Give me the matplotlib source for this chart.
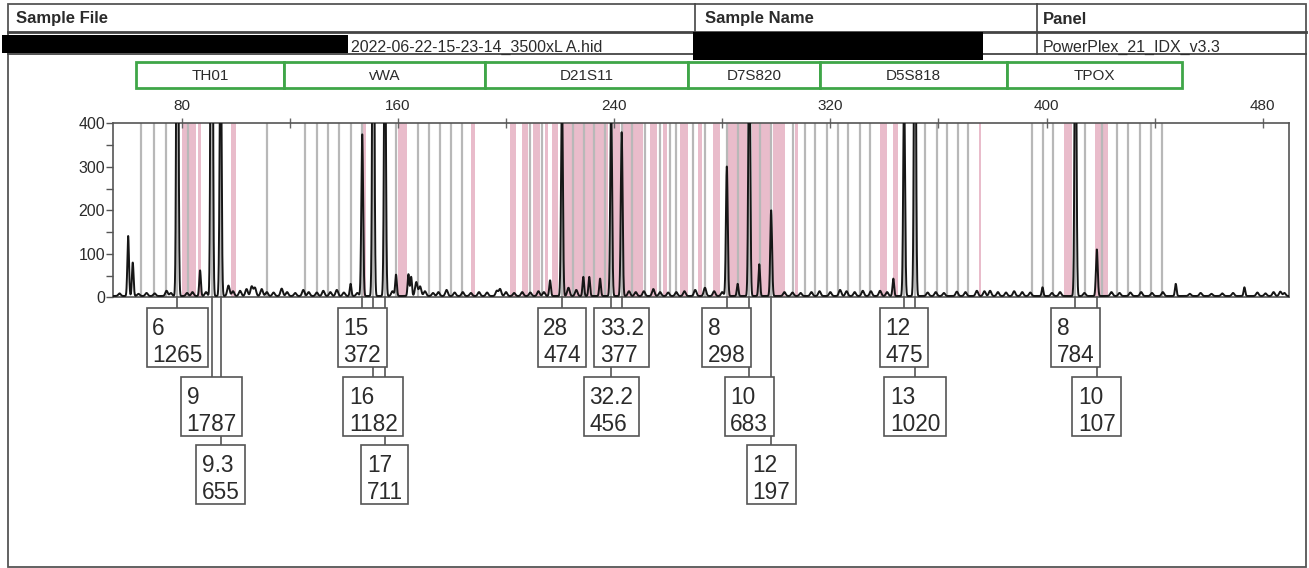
#!/usr/bin/env python3
"""Electropherogram of one dye channel (TH01 .. TPOX) with allele call boxes."""

import numpy as np
from matplotlib import pyplot as plt
from matplotlib.lines import Line2D
from matplotlib.patches import Rectangle

plt.rcParams['font.family'] = ['Liberation Sans', 'DejaVu Sans']

W, H = 1309, 568

sample_file = "2022-06-22-15-23-14_3500xL A.hid"
panel = "PowerPlex_21_IDX_v3.3"

# locus ranges (bp)
loci = ["TH01", "vWA", "D21S11", "D7S820", "D5S818", "TPOX"]
locus_edges = [63.1, 117.9, 192.2, 267.5, 316.2, 385.3, 450.0]

# called alleles: name, size (bp), height (RFU), label row
allele_names = ["6", "9", "9.3", "15", "16", "17", "28", "32.2", "33.2",
                "8", "10", "12", "12", "13", "8", "10"]
allele_sizes = [78.4, 91.1, 94.4, 146.8, 150.9, 155.2, 220.7, 238.9, 242.8,
                281.7, 290.0, 298.1, 347.3, 351.3, 410.7, 418.6]
allele_heights = [1265, 1787, 655, 372, 1182, 711, 474, 456, 377,
                  298, 683, 197, 475, 1020, 784, 107]
label_rows = [0, 1, 2, 0, 1, 2, 0, 1, 0, 0, 1, 2, 0, 1, 0, 1]

# uncalled peaks (stutter, artefacts)
minor_sizes = [60.2, 61.9, 86.8, 142.5, 159.3, 163.9, 164.9, 216.3, 228.6,
               230.8, 234.8, 285.7, 293.7, 343.3, 398.5, 447.8, 473.2]
minor_heights = [138, 77, 59, 28, 49, 50, 44, 36, 44,
                 44, 40, 28, 73, 40, 20, 28, 20]

# baseline noise bumps
noise_sizes = [57, 64, 67, 70, 74.4, 76, 82, 84, 89, 97.3, 99, 101.6, 104.0,
               105.9, 107.1, 109.6, 111.5, 114, 117.0, 119, 122, 125.0, 127,
               130, 132.4, 135, 137.4, 140, 145, 158, 166.8, 168.2, 170, 173,
               175, 178, 181, 184, 187, 190, 193, 196.6, 197.8, 200, 203, 206,
               209, 212, 214, 223.1, 226, 245.5, 248, 251, 254.5, 257, 260,
               263, 266, 270, 273.6, 277, 280, 303, 306, 309, 313, 316, 320,
               323.6, 326, 329, 332, 335, 338.4, 341, 356, 359, 362, 366.8,
               370, 374.2, 377, 379.1, 382, 385, 388, 391, 394, 402, 405, 414,
               424, 427, 431, 435, 439, 443, 453, 457, 461, 465, 469, 478,
               481, 484, 486.5, 488]
noise_heights = [6, 5, 7, 6, 12, 7, 7, 9, 9, 24, 11, 12, 16, 22, 19, 16, 9, 8,
                 17, 9, 7, 14, 9, 8, 12, 9, 14, 8, 7, 11, 32, 22, 11, 7, 9, 14,
                 8, 9, 7, 9, 8, 12, 16, 9, 7, 9, 8, 11, 9, 19, 14, 11, 9, 11,
                 16, 9, 8, 9, 11, 14, 19, 11, 9, 9, 8, 7, 9, 11, 9, 14, 11, 9,
                 12, 11, 12, 9, 8, 9, 7, 10, 9, 12, 11, 12, 9, 8, 11, 9, 8, 7,
                 9, 7, 9, 7, 8, 9, 7, 9, 5, 7, 5, 6, 7, 8, 6, 9, 10, 7]

# allele bins: ladder bins (grey) and virtual bins (pink)
gray_bins = [64.9, 69.6, 74.2, 78.4, 82.4, 91.1, 94.4, 111.7, 125.6, 129.9,
             134.0, 138.3, 142.5, 146.8, 150.9, 155.2, 159.3, 167.6, 171.6,
             175.6, 179.5, 183.6, 208.9, 213.2, 220.7, 224.7, 228.7, 232.7,
             236.7, 238.9, 242.8, 246.7, 251.4, 257.0, 260.7, 262.9, 269.3,
             273.6, 281.7, 285.9, 290.0, 294.1, 298.1, 306.3, 310.6, 314.3,
             318.7, 323.0, 326.7, 331.0, 334.7, 347.3, 351.3, 355.0, 359.4,
             363.3, 367.4, 371.1, 394.5, 398.8, 402.5, 410.7, 414.3, 420.5,
             426.2, 430.3, 434.4, 438.6, 442.6]
pink_starts = [80.0, 86.0, 98.1, 146.3, 160.2, 186.9, 201.5, 205.8, 210.1,
               214.4, 216.9, 221.2, 239.7, 243.4, 253.3, 258.2, 264.4, 271.2,
               276.7, 282.3, 290.9, 298.9, 306.9, 338.4, 343.3, 375.0, 406.5,
               418.0]
pink_ends = [85.3, 87.0, 100.0, 148.2, 163.5, 188.5, 203.7, 208.3, 212.6,
             215.7, 219.4, 237.9, 242.2, 250.8, 255.8, 259.5, 267.5, 272.4,
             279.2, 289.1, 297.7, 303.2, 308.2, 340.9, 345.2, 375.8, 409.3,
             422.9]

x_labels = [80, 160, 240, 320, 400, 480]
x_minor = [120, 200, 280, 360, 440]
y_major = [0, 100, 200, 300, 400]
y_minor = [50, 150, 250, 350]

EDGE = '#555555'
TEXT = '#2b2b2b'


def fx(x):
    return x / W


def fy(y):
    return 1 - y / H


fig = plt.figure(figsize=(W / 100, H / 100), dpi=100)

# ---- electropherogram
ax_l, ax_r, ax_t, ax_b = 113.3, 1289.0, 123.3, 297.3
ax = fig.add_axes([fx(ax_l), fy(ax_b), (ax_r - ax_l) / W, (ax_b - ax_t) / H])
ax.set_xlim(54.7, 489.7)
ax.set_ylim(0, 400)

for a, b in zip(pink_starts, pink_ends):
    ax.axvspan(a, b, color='#e9bccb', lw=0, zorder=1)
for g in gray_bins:
    ax.axvline(g, color='#b8b8b8', lw=1.6, zorder=1.5)

xs = np.linspace(54.7, 489.7, 12000)
trace = np.full_like(xs, 3.0)
for p, h in zip(allele_sizes, allele_heights):
    trace += h * np.exp(-0.5 * ((xs - p) / 0.33) ** 2)
for p, h in zip(minor_sizes, minor_heights):
    trace += h * np.exp(-0.5 * ((xs - p) / 0.3) ** 2)
for p, h in zip(noise_sizes, noise_heights):
    trace += h * np.exp(-0.5 * ((xs - p) / 0.45) ** 2)
ax.plot(xs, trace, color='#161616', lw=1.4, zorder=3)

ax.xaxis.tick_top()
ax.set_xticks(x_labels)
ax.set_xticks(x_minor, minor=True)
ax.tick_params(axis='x', which='both', direction='inout', length=7, width=1,
               color='#666666', labelsize=11, labelcolor=TEXT, pad=4)
ax.set_yticks(y_major)
ax.set_yticks(y_minor, minor=True)
ax.tick_params(axis='y', which='both', direction='out', length=5, width=1,
               color=EDGE, labelsize=11.5, labelcolor=TEXT, pad=1)
for s in ax.spines.values():
    s.set_color(EDGE)
    s.set_linewidth(1.2)


def data_px(bp):
    """Figure pixel x (from left) of a size in bp."""
    return ax.transData.transform((bp, 0))[0]


# ---- header table
fig.add_artist(Rectangle((fx(7.5), fy(566.5)), (1306 - 7.5) / W, (566.5 - 4) / H,
                         transform=fig.transFigure, fill=False, ec=EDGE, lw=1.3))
fig.add_artist(Line2D([fx(7.5), fx(1306)], [fy(32), fy(32)],
                      transform=fig.transFigure, color='#444444', lw=2))
fig.add_artist(Line2D([fx(7.5), fx(1306)], [fy(54), fy(54)],
                      transform=fig.transFigure, color='#444444', lw=1.3))
for xc in [695, 1036.7]:
    fig.add_artist(Line2D([fx(xc), fx(xc)], [fy(4), fy(54)],
                          transform=fig.transFigure, color='#444444', lw=1.2))
for xt, label in [(16, "Sample File"), (705, "Sample Name"), (1043, "Panel")]:
    fig.text(fx(xt), fy(19), label, fontsize=12, fontweight='bold',
             color=TEXT, va='center', ha='left')
fig.text(fx(351), fy(51.5), sample_file, fontsize=11.5, color=TEXT,
         va='baseline', ha='left')
fig.text(fx(1043), fy(51.5), panel, fontsize=11.5, color=TEXT,
         va='baseline', ha='left')
# redacted cells
fig.add_artist(Rectangle((fx(1.7), fy(53.3)), (348 - 1.7) / W, (53.3 - 35) / H,
                         transform=fig.transFigure, fc='black', ec='none', zorder=5))
fig.add_artist(Rectangle((fx(693), fy(60)), (983 - 693) / W, (60 - 32) / H,
                         transform=fig.transFigure, fc='black', ec='none', zorder=5))

# ---- marker bar
for i, name in enumerate(loci):
    x0, x1 = data_px(locus_edges[i]), data_px(locus_edges[i + 1])
    fig.add_artist(Rectangle((fx(x0), fy(88)), (x1 - x0) / W, 26 / H,
                             transform=fig.transFigure, fc='white',
                             ec='#3fa648', lw=2, zorder=2))
    fig.text(fx((x0 + x1) / 2), fy(75.5), name, fontsize=11, color=TEXT,
             ha='center', va='center', zorder=3)

# ---- allele call boxes
row_tops = [307.5, 376.5, 444.5]
box_h = 59.5
renderer = fig.canvas.get_renderer()
for name, size, height, row in zip(allele_names, allele_sizes,
                                   allele_heights, label_rows):
    xp = data_px(size)
    top = row_tops[row]
    t1 = fig.text(0, fy(top + 27.5), name, fontsize=16.3, color=TEXT,
                  ha='left', va='baseline', zorder=6)
    t2 = fig.text(0, fy(top + 54.2), str(height), fontsize=16.3, color=TEXT,
                  ha='left', va='baseline', zorder=6)
    w = max(t1.get_window_extent(renderer).width,
            t2.get_window_extent(renderer).width) + 11
    left = xp - w / 2
    t1.set_x(fx(left + 5.5))
    t2.set_x(fx(left + 5.5))
    fig.add_artist(Rectangle((fx(left), fy(top + box_h)), w / W, box_h / H,
                             transform=fig.transFigure, fc='white', ec=EDGE,
                             lw=1.2, zorder=5))
    fig.add_artist(Line2D([fx(xp), fx(xp)], [fy(ax_b), fy(top)],
                          transform=fig.transFigure, color=EDGE, lw=1.2,
                          zorder=4))

fig.savefig('out.png', dpi=100, facecolor='white')
